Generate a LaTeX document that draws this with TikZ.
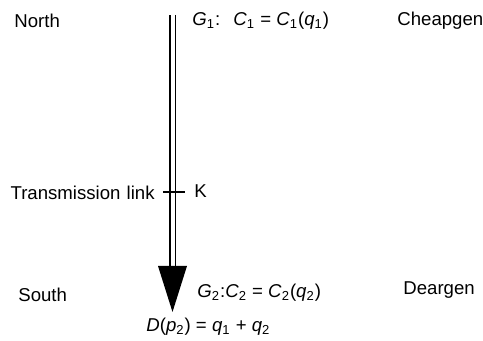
\documentclass[tikz,border=0pt]{standalone}
\usepackage{fontspec}
\setmainfont{Liberation Sans}
\usetikzlibrary{arrows.meta, positioning, calc}

\newcommand{\vsub}[2]{\textit{#1}\textsubscript{#2}}

\begin{document}
\begin{tikzpicture}[
    x=0.5pt, y=-0.5pt,
    lbl/.style={anchor=base west, inner sep=0pt, font=\fontsize{9.3}{11}\selectfont},
    link/.style={double, double distance=2pt, line width=0.7pt},
    tick/.style={line width=0.7pt}
]
    \useasboundingbox (0,0) rectangle (483,341);

    % bus ends
    \coordinate (north) at (172.5,15);
    \coordinate (base) at (172.5,268);
    \coordinate (south) at (172.5,312);

    \draw[link] (north) -- (base);
    \fill (158,266) -- (south) -- (187,266) -- cycle;

    % transmission limit mark
    \coordinate (tl) at (163,192);
    \coordinate (tr) at (185,192);
    \draw[tick] (tl) -- (tr);

    \node[lbl] (nlab) at (14,28) {North};
    \node[lbl] (g1) at (192,26) {\vsub{G}{1}:\,\, \vsub{C}{1} = \vsub{C}{1}(\vsub{q}{1})};
    \node[lbl] (cheap) at (397,26) {Cheapgen};

    \node[lbl, anchor=base east] (tlab) at (155,200) {Transmission\,\,link};
    \node[lbl] (klab) at (194,198) {K};

    \node[lbl] (slab) at (18,302) {South};
    \node[lbl] (g2) at (197,298) {\vsub{G}{2}:\vsub{C}{2} = \vsub{C}{2}(\vsub{q}{2})};
    \node[lbl] (dear) at (403,295) {Deargen};
    \node[lbl] (dem) at (146,332) {\textit{D}(\vsub{p}{2}) = \vsub{q}{1} + \vsub{q}{2}};
\end{tikzpicture}
\end{document}
